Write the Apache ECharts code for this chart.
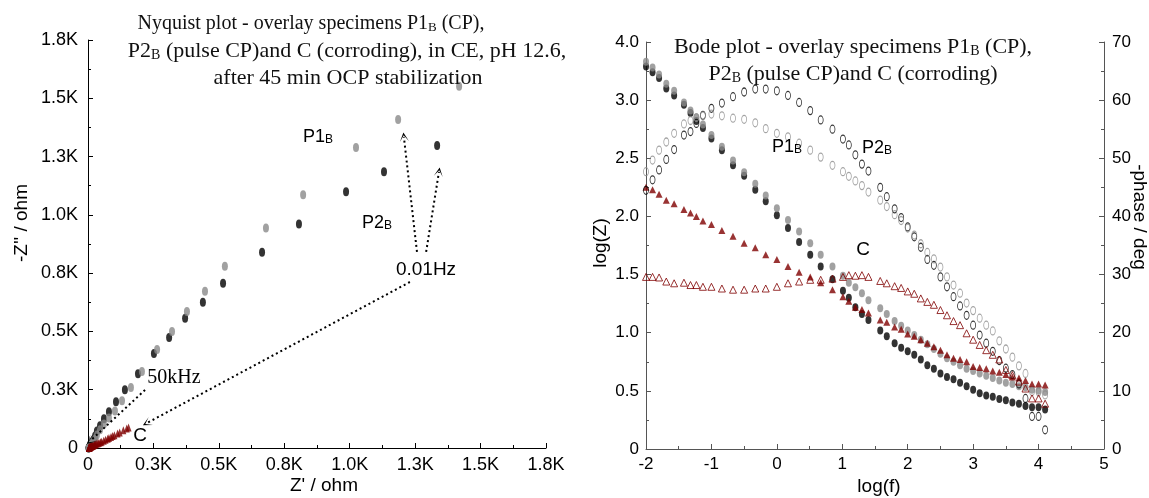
<!DOCTYPE html>
<html>
<head>
<meta charset="utf-8">
<script src="https://cdn.jsdelivr.net/npm/echarts@6/dist/echarts.min.js"></script>
<style>
  html, body { margin: 0; padding: 0; background: #fff; }
  #chart { width: 1149px; height: 498px; }
</style>
</head>
<body>
<div id="chart"></div>
<script>
// ---- Nyquist data (Z' and -Z'' in ohm), low frequency first ----
const p1Re = [1418, 1185, 1024, 822, 680, 523, 447, 378, 321, 264, 206, 164, 130, 103, 80, 61, 46, 34, 27, 21, 16, 13, 11, 9.5, 8.3, 7, 6, 5, 4.3, 3.8, 3.4, 3.1];
const p1Im = [1552, 1409, 1289, 1086, 944, 780, 672, 586, 500, 422, 328, 259, 203, 159, 129, 103, 78, 56, 39, 29, 21, 16, 12, 9, 6.5, 5, 3.5, 2.5, 1.9, 1.3, 0.9, 0.5];

const p2Re = [1334, 1131, 986, 806, 665, 516, 439, 371, 310, 252, 191, 141, 107, 80, 61, 46, 34, 27, 20, 15, 12, 9.5, 7.5, 6, 5, 4, 3.4, 3, 2.6, 2.2];
const p2Im = [1297, 1185, 1099, 961, 840, 707, 625, 556, 474, 405, 319, 250, 198, 155, 125, 95, 73, 52, 35, 25, 18, 13, 9.5, 6.5, 4.5, 3, 2, 1.2, 0.6, 0.1];

const cRe = [155, 148, 135, 121, 113, 101, 94, 88, 80, 75, 67, 60, 52, 48, 42, 38, 33, 29, 26, 24, 20, 18, 16, 14, 13, 12, 11, 10, 9, 8, 7, 6.5, 6, 5.5, 5, 4.8, 4.5, 4.3, 4, 3.8, 3.5];
const cIm = [88, 84, 76, 66, 62, 55, 51, 47, 43, 40, 35, 31, 27, 25, 22, 20, 18, 16, 15, 13, 11, 10, 9, 8.2, 7.6, 7.3, 6.6, 6, 5.2, 4.5, 3.8, 2.9, 2.5, 2.1, 1.8, 1.6, 1.3, 1.0, 0.8, 0.6, 0.5];

// ---- Bode data: log(f), log|Z| and -phase (deg) ----
const logF = [-2.0, -1.9, -1.8, -1.69, -1.57, -1.42, -1.32, -1.23, -1.13, -1.0, -0.84, -0.67, -0.5, -0.33, -0.17, 0.0, 0.17, 0.34, 0.51, 0.67, 0.85, 1.01, 1.1, 1.2, 1.3, 1.4, 1.58, 1.68, 1.8, 1.9, 2.0, 2.1, 2.2, 2.3, 2.4, 2.5, 2.6, 2.7, 2.8, 2.9, 3.0, 3.1, 3.2, 3.3, 3.4, 3.5, 3.6, 3.7, 3.8, 3.9, 4.0, 4.1];

const p1LogZ = [3.33, 3.28, 3.22, 3.14, 3.08, 2.98, 2.91, 2.85, 2.79, 2.70, 2.60, 2.48, 2.38, 2.28, 2.18, 2.07, 1.97, 1.87, 1.77, 1.67, 1.57, 1.49, 1.43, 1.39, 1.34, 1.28, 1.21, 1.16, 1.10, 1.06, 1.02, 0.98, 0.94, 0.90, 0.86, 0.82, 0.78, 0.75, 0.72, 0.69, 0.67, 0.65, 0.63, 0.61, 0.59, 0.57, 0.56, 0.54, 0.53, 0.51, 0.50, 0.49];
const p2LogZ = [3.29, 3.24, 3.19, 3.10, 3.04, 2.96, 2.89, 2.82, 2.76, 2.67, 2.57, 2.44, 2.35, 2.23, 2.13, 2.01, 1.90, 1.78, 1.67, 1.57, 1.46, 1.36, 1.30, 1.22, 1.16, 1.11, 1.02, 0.97, 0.91, 0.87, 0.84, 0.81, 0.77, 0.72, 0.69, 0.65, 0.62, 0.60, 0.57, 0.54, 0.51, 0.48, 0.46, 0.45, 0.43, 0.42, 0.40, 0.39, 0.37, 0.36, 0.36, 0.34];
const cLogZ = [2.25, 2.23, 2.19, 2.14, 2.11, 2.06, 2.03, 2.00, 1.96, 1.93, 1.88, 1.83, 1.77, 1.73, 1.67, 1.63, 1.57, 1.52, 1.48, 1.43, 1.37, 1.31, 1.27, 1.22, 1.20, 1.17, 1.11, 1.09, 1.05, 1.03, 0.99, 0.97, 0.94, 0.91, 0.88, 0.85, 0.81, 0.78, 0.77, 0.75, 0.71, 0.70, 0.69, 0.67, 0.66, 0.64, 0.62, 0.61, 0.59, 0.56, 0.56, 0.55];

const p1Phase = [47.7, 49.7, 51.4, 52.8, 54.3, 55.9, 56.5, 57.0, 57.3, 57.6, 57.3, 56.9, 56.7, 56.1, 55.1, 54.3, 53.7, 52.6, 51.4, 50.2, 48.8, 47.7, 46.9, 46.1, 45.3, 44.2, 42.8, 41.7, 40.3, 39.3, 38.0, 36.8, 35.3, 33.8, 32.7, 31.3, 29.6, 28.2, 26.8, 25.1, 23.8, 22.5, 21.3, 20.3, 18.6, 17.2, 15.8, 14.3, 13.0, 9.9, 9.8, 9.3];
const p2Phase = [44.5, 46.3, 48.0, 49.8, 51.5, 54.0, 54.6, 56.0, 57.4, 58.6, 59.5, 60.6, 61.4, 61.9, 61.9, 61.6, 60.8, 59.6, 58.2, 56.6, 55.0, 53.3, 52.3, 50.6, 49.0, 47.8, 45.0, 43.4, 41.3, 39.8, 38.2, 36.5, 34.7, 32.6, 31.6, 29.6, 27.9, 26.2, 24.6, 23.0, 21.3, 19.6, 18.2, 16.8, 15.2, 13.9, 12.8, 11.2, 8.7, 5.6, 5.6, 3.3];
const cPhase = [29.6, 29.6, 29.5, 28.8, 28.5, 28.6, 28.2, 28.2, 27.9, 27.9, 27.6, 27.4, 27.4, 27.6, 27.6, 27.9, 28.5, 28.8, 29.1, 29.1, 29.3, 29.6, 29.9, 29.8, 29.9, 29.6, 28.9, 28.5, 28.0, 27.7, 27.1, 26.7, 25.9, 25.3, 24.8, 23.9, 23.0, 22.0, 21.3, 19.9, 18.8, 17.9, 17.0, 16.2, 15.4, 13.6, 12.7, 11.6, 10.4, 8.7, 8.7, 7.8];

// ---- tick labels ----
const nyqTickLabels = ['0', '0.3K', '0.5K', '0.8K', '1.0K', '1.3K', '1.5K', '1.8K'];
const logZTickLabels = ['0', '0.5', '1.0', '1.5', '2.0', '2.5', '3.0', '4.0'];

// ---- annotation arrows on the Nyquist plot, [from, to] in ohm ----
const nyqArrows = [
  [[1257, 841], [1207, 1334]],
  [[1292, 841], [1341, 1184]],
  [[1230, 712], [225, 107]],
  [[218, 249], [8, 30]]
];

const SANS = 'Liberation Sans';
const SERIF = 'Liberation Serif';
const GRAY = '#8a8a8a';
const RED = '#800000';

const pairs = (xs, ys) => xs.map((x, i) => [x, ys[i]]);

const chart = echarts.init(document.getElementById('chart'));

function axisBase(color, labelSize) {
  return {
    type: 'value',
    axisLine: { show: true, onZero: false, lineStyle: { color: color, width: 1 } },
    axisTick: { show: true, inside: true, length: 5, lineStyle: { color: color } },
    minorTick: { show: true, splitNumber: 2, length: 3, lineStyle: { color: color } },
    splitLine: { show: false },
    minorSplitLine: { show: false },
    axisLabel: { color: '#000', fontFamily: SANS, fontSize: labelSize }
  };
}

const chevron = 'path://M0,10L5,0L10,10L5,3Z';

const richSans = {
  m: { fontFamily: SANS, fontSize: 18, lineHeight: 22, verticalAlign: 'bottom', fill: '#000' },
  s: { fontFamily: SANS, fontSize: 12, lineHeight: 10, verticalAlign: 'bottom', fill: '#000' }
};
const richSerif = {
  t: { fontFamily: SERIF, fontSize: 22, lineHeight: 26, verticalAlign: 'bottom', fill: '#111' },
  s: { fontFamily: SERIF, fontSize: 14, lineHeight: 12, verticalAlign: 'bottom', fill: '#111' }
};
const richSerifSmall = {
  t: { fontFamily: SERIF, fontSize: 20, lineHeight: 24, verticalAlign: 'bottom', fill: '#111' },
  s: { fontFamily: SERIF, fontSize: 13, lineHeight: 11, verticalAlign: 'bottom', fill: '#111' }
};

function label(x, y, text, rich, extra, props) {
  return Object.assign({
    type: 'text', x: x, y: y, silent: true, z: 100,
    style: Object.assign({ text: text, rich: rich, align: 'left', verticalAlign: 'middle', fill: '#000' }, extra || {})
  }, props || {});
}
function plain(x, y, text, font, size, props) {
  return Object.assign({
    type: 'text', x: x, y: y, silent: true, z: 100,
    style: { text: text, fontFamily: font, fontSize: size, fill: '#000', align: 'center', verticalAlign: 'middle' }
  }, props || {});
}

const option = {
  animation: false,
  backgroundColor: '#fff',
  grid: [
    { left: 88, top: 40, width: 458, height: 408 },
    { left: 646, top: 42, width: 458, height: 407 }
  ],
  xAxis: [
    Object.assign(axisBase('#000', 18), {
      gridIndex: 0, min: 0, max: 1750, interval: 250,
      axisLabel: { color: '#000', fontFamily: SANS, fontSize: 18, margin: 8,
        formatter: v => nyqTickLabels[Math.round(v / 250)] }
    }),
    Object.assign(axisBase('#555', 17), {
      gridIndex: 1, min: -2, max: 5, interval: 1,
      axisLabel: { color: '#000', fontFamily: SANS, fontSize: 17, margin: 7 }
    })
  ],
  yAxis: [
    Object.assign(axisBase('#000', 18), {
      gridIndex: 0, min: 0, max: 1750, interval: 250,
      axisLabel: { color: '#000', fontFamily: SANS, fontSize: 18, margin: 10,
        formatter: v => nyqTickLabels[Math.round(v / 250)] }
    }),
    Object.assign(axisBase('#555', 17), {
      gridIndex: 1, min: 0, max: 3.5, interval: 0.5,
      axisLabel: { color: '#000', fontFamily: SANS, fontSize: 17, margin: 7,
        formatter: v => logZTickLabels[Math.round(v / 0.5)] }
    }),
    Object.assign(axisBase('#555', 17), {
      gridIndex: 1, min: 0, max: 70, interval: 10, position: 'right',
      axisLabel: { color: '#000', fontFamily: SANS, fontSize: 17, margin: 8 }
    })
  ],
  series: [
    // Nyquist
    { type: 'scatter', xAxisIndex: 0, yAxisIndex: 0, silent: true,
      data: pairs(p2Re, p2Im), symbol: 'circle', symbolSize: [6, 9], itemStyle: { color: '#000' } },
    { type: 'scatter', xAxisIndex: 0, yAxisIndex: 0, silent: true,
      data: pairs(p1Re, p1Im), symbol: 'circle', symbolSize: [6, 9], itemStyle: { color: GRAY } },
    { type: 'scatter', xAxisIndex: 0, yAxisIndex: 0, silent: true,
      data: pairs(cRe, cIm), symbol: 'triangle', symbolSize: [6, 8], itemStyle: { color: RED },
      markLine: {
        silent: true, symbol: ['none', chevron], symbolSize: 9, symbolKeepAspect: true,
        label: { show: false },
        lineStyle: { color: '#000', width: 2, type: [2, 3] },
        emphasis: { disabled: true },
        data: nyqArrows.map(a => [{ coord: a[0] }, { coord: a[1] }])
      } },
    // Bode: magnitude
    { type: 'scatter', xAxisIndex: 1, yAxisIndex: 1, silent: true,
      data: pairs(logF, p2LogZ), symbol: 'circle', symbolSize: [6, 8], itemStyle: { color: '#000' } },
    { type: 'scatter', xAxisIndex: 1, yAxisIndex: 1, silent: true,
      data: pairs(logF, p1LogZ), symbol: 'circle', symbolSize: [6, 8], itemStyle: { color: GRAY } },
    { type: 'scatter', xAxisIndex: 1, yAxisIndex: 1, silent: true,
      data: pairs(logF, cLogZ), symbol: 'triangle', symbolSize: [7, 7], itemStyle: { color: RED } },
    // Bode: phase
    { type: 'scatter', xAxisIndex: 1, yAxisIndex: 2, silent: true,
      data: pairs(logF, p2Phase), symbol: 'circle', symbolSize: [5, 8],
      itemStyle: { color: 'rgba(255,255,255,0)', borderColor: '#000', borderWidth: 1 } },
    { type: 'scatter', xAxisIndex: 1, yAxisIndex: 2, silent: true,
      data: pairs(logF, p1Phase), symbol: 'circle', symbolSize: [5, 8],
      itemStyle: { color: 'rgba(255,255,255,0)', borderColor: '#8c8c8c', borderWidth: 1 } },
    { type: 'scatter', xAxisIndex: 1, yAxisIndex: 2, silent: true,
      data: pairs(logF, cPhase), symbol: 'triangle', symbolSize: [7, 7],
      itemStyle: { color: 'rgba(255,255,255,0)', borderColor: RED, borderWidth: 1 } }
  ],
  graphic: [
    // titles
    label(311, 22, '{t|Nyquist plot - overlay specimens P1}{s|B}{t| (CP),}', richSerifSmall, { align: 'center' }),
    label(347, 49, '{t|P2}{s|B}{t| (pulse CP)and C (corroding), in CE, pH 12.6,}', richSerif, { align: 'center' }),
    label(348, 76, '{t|after 45 min OCP stabilization}', richSerif, { align: 'center' }),
    label(853, 45, '{t|Bode plot - overlay specimens P1}{s|B}{t| (CP),}', richSerif, { align: 'center' }),
    label(853, 72, '{t|P2}{s|B}{t| (pulse CP)and C (corroding)}', richSerif, { align: 'center' }),
    // axis names
    plain(22, 223, "-Z'' / ohm", SANS, 19, { rotation: Math.PI / 2 }),
    plain(324, 486, "Z' / ohm", SANS, 19),
    plain(601, 243, 'log(Z)', SANS, 19, { rotation: Math.PI / 2 }),
    plain(879, 487, 'log(f)', SANS, 19),
    plain(1139, 217, '-phase / deg', SANS, 19, { rotation: -Math.PI / 2 }),
    // Nyquist annotations
    label(303, 135, '{m|P1}{s|B}', richSans),
    label(362, 221, '{m|P2}{s|B}', richSans),
    plain(426, 270, '0.01Hz', SANS, 19),
    plain(174, 378, '50kHz', SERIF, 20),
    plain(140, 436, 'C', SANS, 19),
    // Bode annotations
    label(772, 145, '{m|P1}{s|B}', richSans),
    label(862, 146, '{m|P2}{s|B}', richSans),
    plain(863, 250, 'C', SANS, 19)
  ]
};

chart.setOption(option);
</script>
</body>
</html>
